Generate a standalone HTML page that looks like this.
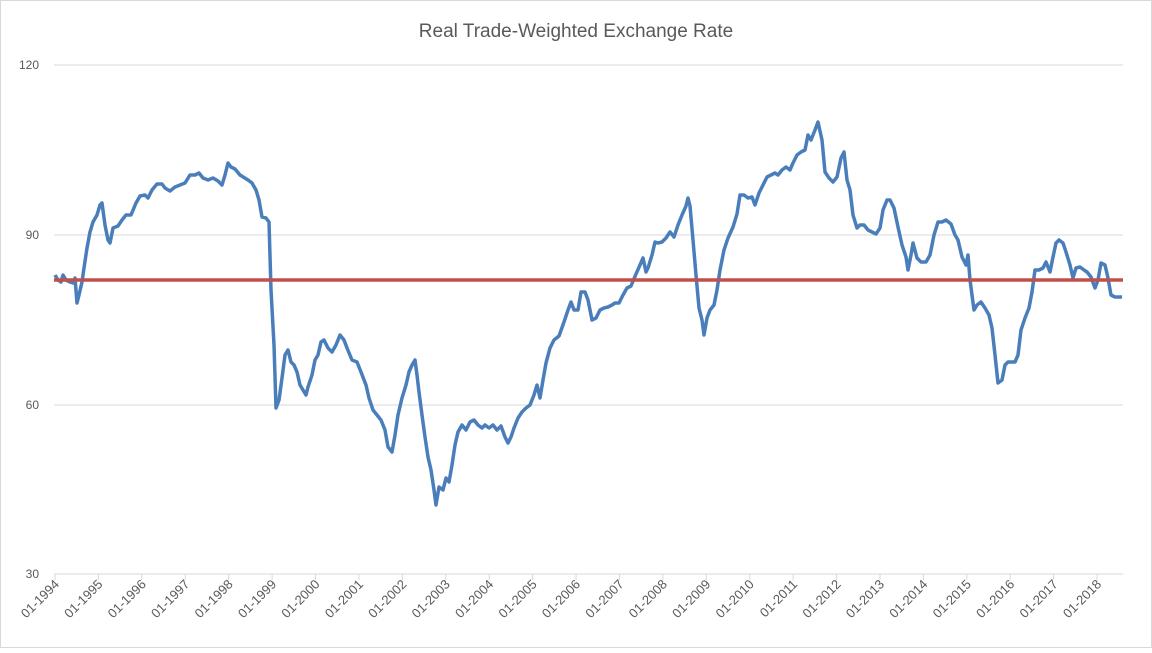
<!DOCTYPE html>
<html><head><meta charset="utf-8"><style>body{margin:0;background:#fff}</style></head><body>
<svg width="1152" height="648" xmlns="http://www.w3.org/2000/svg" font-family="Liberation Sans, sans-serif">
<rect x="0.5" y="0.5" width="1151" height="647" fill="#fff" stroke="#d9d9d9"/>
<text x="576" y="37" text-anchor="middle" font-size="19" fill="#595959">Real Trade-Weighted Exchange Rate</text>
<g stroke="#d9d9d9" stroke-width="1">
<line x1="54" y1="65" x2="1123" y2="65"/><line x1="54" y1="235" x2="1123" y2="235"/><line x1="54" y1="405" x2="1123" y2="405"/><line x1="54" y1="574" x2="1123" y2="574"/>
</g>
<g font-size="12" fill="#595959" text-anchor="end">
<text x="39" y="69">120</text><text x="39" y="239">90</text><text x="39" y="409">60</text><text x="39" y="578">30</text>
</g>
<g id="ticks" stroke="#d9d9d9"></g>
<g id="xl" font-size="13" fill="#595959" text-anchor="end"></g>
<polyline fill="none" stroke="#4a7ebb" stroke-width="3.5" stroke-linejoin="round" points="55,275 58,280 61,282 63,275 66,280 70,282 73,283 75,278 77,303 79,295 82,282 84,268 87,248 90,232 93,222 97,215 100,205 102,203 105,225 108,240 110,243 113,228 118,226 122,220 126,215 131,215 136,203 140,196 145,195 148,198 152,190 157,184 162,184 165,188 170,191 175,187 180,185 185,183 190,175 195,175 199,173 203,178 208,180 213,178 218,181 222,185 225,175 228,163 231,167 235,169 240,175 248,180 252,183 256,190 259,200 262,217 266,218 269,222 271,290 274,345 276,408 279,400 282,378 285,355 288,350 291,362 294,365 297,372 300,385 303,390 306,395 308,387 312,375 315,360 318,355 321,342 324,340 328,348 332,352 336,345 340,335 344,340 347,348 352,360 357,362 361,372 366,385 369,398 373,410 377,415 381,420 385,430 388,447 392,452 395,435 398,415 402,398 406,385 409,372 412,365 415,360 417,375 419,392 422,415 425,437 428,457 431,470 434,490 436,505 439,487 443,490 446,478 449,482 452,465 455,445 458,432 462,425 466,430 470,422 474,420 478,425 482,428 485,425 489,428 493,425 497,430 501,426 505,437 508,443 511,437 514,428 518,418 522,412 526,408 530,405 534,395 537,385 540,398 543,380 546,363 550,348 554,340 559,336 564,322 568,310 571,302 574,310 578,310 581,292 585,292 588,300 592,320 596,318 600,310 604,308 608,307 612,305 615,303 619,303 623,295 627,288 631,286 636,274 640,265 643,258 646,272 648,268 652,255 655,242 658,243 662,242 666,238 670,232 674,237 678,225 682,215 686,206 688,198 690,206 693,240 696,275 699,308 702,320 704,335 707,318 710,310 714,305 717,290 720,270 724,250 728,238 733,227 737,214 740,195 744,195 748,198 752,197 755,205 759,193 763,185 767,177 771,175 775,173 778,175 782,170 786,167 790,170 793,163 797,155 801,152 805,150 808,135 811,140 815,130 818,122 822,140 825,172 829,178 833,182 837,177 841,158 844,152 847,180 850,190 853,215 857,228 860,225 864,225 868,230 872,232 876,234 880,228 883,210 887,200 890,200 894,208 898,227 902,245 906,257 908,270 911,255 913,243 917,258 921,262 926,262 930,255 934,235 938,222 942,222 946,220 951,224 955,235 958,240 962,257 966,265 968,255 970,280 974,310 977,305 981,302 985,308 989,315 992,328 995,355 998,383 1002,380 1005,365 1008,362 1011,362 1015,362 1018,355 1021,330 1025,318 1029,308 1032,292 1035,270 1039,270 1043,268 1046,262 1050,272 1053,257 1056,243 1059,240 1063,243 1066,252 1070,265 1073,278 1076,268 1080,267 1084,270 1087,272 1091,277 1095,288 1098,280 1101,263 1105,265 1108,278 1111,295 1115,297 1119,297 1122,297"/>
<line x1="54" y1="280" x2="1123" y2="280" stroke="#c0504d" stroke-width="3.5"/>
<script>
var t=document.getElementById('ticks'),l=document.getElementById('xl'),ns='http://www.w3.org/2000/svg';
for(var i=0;i<=24;i++){var x=55+43.42*i;
var ln=document.createElementNS(ns,'line');ln.setAttribute('x1',x);ln.setAttribute('x2',x);ln.setAttribute('y1',574);ln.setAttribute('y2',580);t.appendChild(ln);
var tx=document.createElementNS(ns,'text');tx.setAttribute('transform','translate('+(x+5)+',585) rotate(-45)');tx.textContent='01-'+(1994+i);l.appendChild(tx);}
</script>
</svg>
</body></html>
